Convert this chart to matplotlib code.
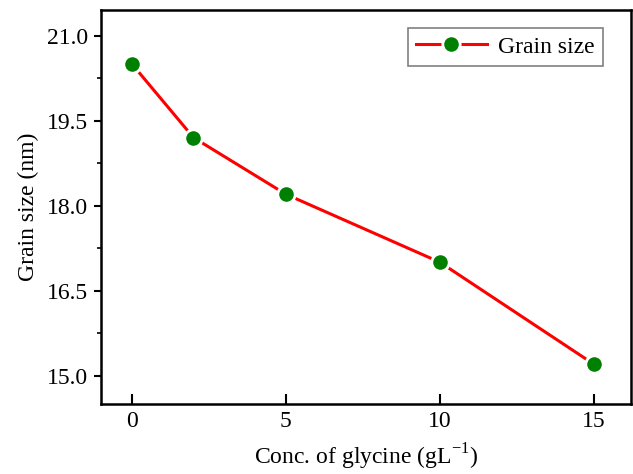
import matplotlib
matplotlib.use("Agg")
import numpy as np
import matplotlib.pyplot as plt
from matplotlib.ticker import MultipleLocator

conc = [0, 2, 5, 10, 15]
grain = [20.5, 19.2, 18.2, 17.0, 15.2]

plt.rcParams['font.family'] = ['Liberation Serif', 'DejaVu Serif']
plt.rcParams['mathtext.fontset'] = 'custom'
plt.rcParams['mathtext.rm'] = 'Liberation Serif'

fig = plt.figure(figsize=(6.33, 4.74), dpi=100)
ax = fig.add_axes([101/633, 1 - 404/474, 530/633, 394/474])

ax.plot(conc, grain, color='red', lw=2.2, marker='o', markersize=12.5,
        markerfacecolor='green', markeredgecolor='white', markeredgewidth=2,
        label='Grain size')

ax.set_xlim(-1, 16.2)
ax.set_ylim(14.5, 21.45)
ax.set_xticks([0, 5, 10, 15])
ax.set_yticks([15.0, 16.5, 18.0, 19.5, 21.0])
ax.yaxis.set_minor_locator(MultipleLocator(0.75))
ax.yaxis.set_major_formatter(matplotlib.ticker.FormatStrFormatter('%.1f'))

ax.tick_params(axis='x', direction='in', length=7, width=1.5, labelsize=17, pad=5)
ax.tick_params(axis='y', which='major', direction='out', length=5, width=1.5, labelsize=17, pad=4)
ax.tick_params(axis='y', which='minor', direction='out', length=3, width=1.2)
for s in ax.spines.values():
    s.set_linewidth(1.8)

ax.set_xlabel('Conc. of glycine (gL$^{\\mathrm{-}1}$)', fontsize=17, labelpad=7)
ax.set_ylabel('Grain size (nm)', fontsize=17, labelpad=6)

leg = ax.legend(loc='upper right', fontsize=17, fancybox=False, framealpha=1,
                edgecolor='gray', handlelength=3.0, borderpad=0.35,
                handletextpad=0.5, bbox_to_anchor=(0.97, 0.985))
leg.get_frame().set_linewidth(1.2)

fig.savefig('out.png', dpi=100)
